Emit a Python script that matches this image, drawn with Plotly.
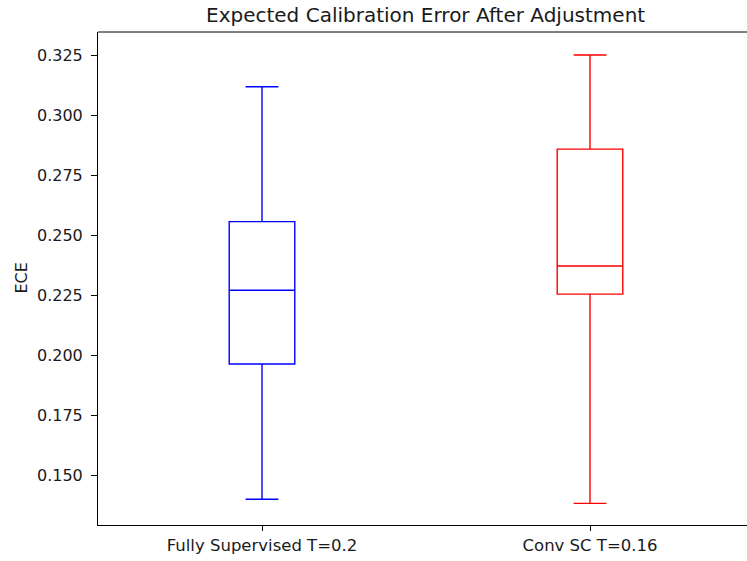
import plotly.graph_objects as go

categories = ["Fully Supervised T=0.2", "Conv SC T=0.16"]
positions = [1, 2]
colors = ["blue", "red"]
lower_whisker = [0.1399, 0.1382]
q1 = [0.1963, 0.2254]
median = [0.2270, 0.2371]
q3 = [0.2556, 0.2858]
upper_whisker = [0.3118, 0.3250]
ytick_vals = [0.150, 0.175, 0.200, 0.225, 0.250, 0.275, 0.300, 0.325]

W, H = 747, 561
L, R, T, B = 98, 0, 32, 36

fig = go.Figure()
for i in range(len(categories)):
    fig.add_trace(go.Box(
        x=[positions[i]],
        q1=[q1[i]], median=[median[i]], q3=[q3[i]],
        lowerfence=[lower_whisker[i]], upperfence=[upper_whisker[i]],
        width=0.2,
        whiskerwidth=0.5,
        line=dict(color=colors[i], width=1.4),
        fillcolor="rgba(0,0,0,0)",
        boxpoints=False,
        showlegend=False,
        hoverinfo="skip",
    ))

plot_w = W - L - R
x0 = 0.5
x1 = x0 + plot_w / 328.0

fig.update_layout(
    width=W, height=H,
    margin=dict(l=L, r=R, t=T, b=B, pad=0),
    paper_bgcolor="white", plot_bgcolor="white",
    font=dict(family="DejaVu Sans", size=16, color="black"),
    xaxis=dict(
        range=[x0, x1], tickmode="array", tickvals=positions, ticktext=categories,
        showgrid=False, zeroline=False, showline=True, linecolor="black", linewidth=1,
        ticks="outside", ticklen=5, tickcolor="black", tickwidth=1,
        tickfont=dict(size=16.5, color="#1a1a1a"),
    ),
    yaxis=dict(
        range=[0.1292, 0.3346], tickmode="array", tickvals=ytick_vals,
        ticktext=[f"{v:.3f}" for v in ytick_vals],
        showgrid=False, zeroline=False, showline=True, linecolor="black", linewidth=1,
        ticks="outside", ticklen=6, tickcolor="black", tickwidth=1,
        ticklabelstandoff=5,
        tickfont=dict(size=16, color="#1a1a1a"),
    ),
    shapes=[dict(type="line", xref="paper", yref="paper", x0=0, x1=1, y0=1, y1=1,
                 line=dict(color="black", width=1))],
    annotations=[
        dict(text="Expected Calibration Error After Adjustment", xref="paper", yref="paper",
             x=(425 - L) / plot_w, y=1 + (T - 15) / (H - T - B), xanchor="center", yanchor="middle",
             showarrow=False, font=dict(size=20, color="#1a1a1a")),
        dict(text="ECE", xref="paper", yref="paper", textangle=-90,
             x=(21 - L) / plot_w, y=0.5, xanchor="center", yanchor="middle",
             showarrow=False, font=dict(size=16, color="#1a1a1a")),
    ],
)

fig.write_html("out.html")
